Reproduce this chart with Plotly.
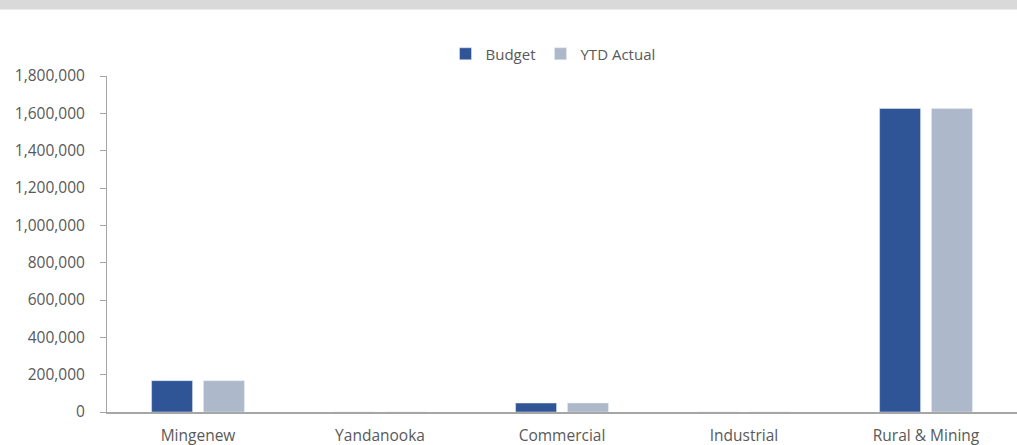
import plotly.graph_objects as go

categories = ["Mingenew", "Yandanooka", "Commercial", "Industrial", "Rural & Mining"]
budget = [168000, 0, 48000, 0, 1626000]
ytd_actual = [168000, 0, 48000, 0, 1626000]

W, H = 1017, 445
ml, mr, mt, mb = 107, 0, 76, 33
ph = H - mt - mb
pw = W - ml - mr

font = dict(family="Open Sans, sans-serif", size=15.5, color="#595959")

fig = go.Figure()
fig.add_trace(go.Bar(name="Budget", x=categories, y=budget, marker_color="#2F5597"))
fig.add_trace(go.Bar(name="YTD Actual", x=categories, y=ytd_actual, marker_color="#ADB9CA"))

fig.update_layout(
    width=W, height=H,
    margin=dict(l=ml, r=mr, t=mt, b=mb, autoexpand=False),
    paper_bgcolor="white", plot_bgcolor="white",
    barmode="group", bargap=0.43, bargroupgap=0.21,
    font=font,
    showlegend=True,
    legend=dict(orientation="h", x=(553 - ml) / pw, xanchor="center",
                y=(H - mb - 54) / ph, yanchor="middle",
                font=dict(family="Open Sans, sans-serif", size=15, color="#595959"),
                bgcolor="rgba(0,0,0,0)"),
    shapes=[dict(type="rect", xref="paper", yref="paper",
                 x0=-ml / pw - 0.01, x1=1 + 0.01, y0=(H - mb - 9.5) / ph, y1=(H - mb) / ph + 0.01,
                 fillcolor="#D9D9D9", line=dict(width=0), layer="above")],
)
fig.update_yaxes(range=[0, 1800000], dtick=200000, tickformat=",",
                 showgrid=False, zeroline=False, showline=True, linecolor="#A6A6A6",
                 linewidth=1, ticks="outside", ticklen=6, tickcolor="#A6A6A6",
                 ticklabelstandoff=12, automargin=False)
fig.update_xaxes(showgrid=False, showline=True, linecolor="#A6A6A6", linewidth=1.5,
                 ticks="", ticklabelstandoff=9, automargin=False)

fig.write_html("out.html", config={"displayModeBar": False},
               post_script="document.body.style.margin='0';")
